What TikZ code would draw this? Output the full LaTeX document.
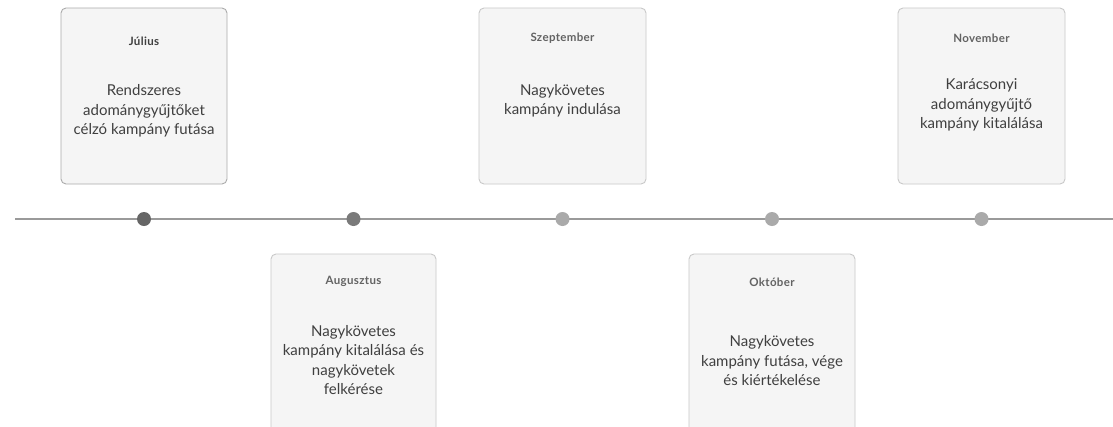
\documentclass[tikz,border=0pt]{standalone}
\usepackage{fontspec}
\setmainfont{Lato}
\newfontfamily\titlefont[LetterSpace=3,UprightFont=* Bold]{Lato}
\definecolor{boxfill}{HTML}{F5F5F5}
\definecolor{boxline}{HTML}{C9C9C9}
\definecolor{axis}{HTML}{9A9A9A}
\definecolor{bodytext}{HTML}{3F3F3F}
\definecolor{titletext}{HTML}{636363}
\definecolor{dotdark}{HTML}{666666}
\definecolor{dotmid}{HTML}{7A7A7A}
\definecolor{dotlight}{HTML}{AAAAAA}
\begin{document}
\begin{tikzpicture}[x=1pt,y=-1pt,
  card/.style={draw=boxline, fill=boxfill, rounded corners=5pt, line width=0.9pt},
  ttl/.style={font=\titlefont\fontsize{11.5}{13}\selectfont, text=titletext},
  bodytx/.style={font=\fontsize{15}{19.5}\selectfont, text=bodytext, align=center, inner sep=0pt},
  dotst/.style={circle, inner sep=0pt, minimum size=14pt}
]
\useasboundingbox (0,0) rectangle (1113,426);
\clip (0,0) rectangle (1113,426);
\fill[white] (0,0) rectangle (1113,426);
% timeline
\coordinate (L) at (15,219);
\coordinate (R) at (1113,219);
\draw[axis, line width=1.4pt] (L) -- (R);
% cards
\draw[card, draw=boxline!85!black] (61,8) rectangle (227,184);
\draw[card] (271,254) rectangle (436,440);
\draw[card] (479,8) rectangle (646,184);
\draw[card] (689,254) rectangle (855,440);
\draw[card] (898,8) rectangle (1065,184);
% dots
\node[dotst, fill=dotdark] (d1) at (144,219) {};
\node[dotst, fill=dotmid] (d2) at (353.5,219) {};
\node[dotst, fill=dotlight] (d3) at (562.5,219) {};
\node[dotst, fill=dotlight] (d4) at (772,219) {};
\node[dotst, fill=dotlight] (d5) at (981.5,219) {};
% titles
\node[ttl, text=bodytext] (t1) at (144,41) {Július};
\node[ttl] (t2) at (353.5,281) {Augusztus};
\node[ttl] (t3) at (562.5,38) {Szeptember};
\node[ttl] (t4) at (772,282) {Október};
\node[ttl] (t5) at (981.5,38) {November};
% bodies
\node[bodytx] (x1) at (144,111) {Rendszeres\\adománygyűjtőket\\célzó kampány futása};
\node[bodytx] (x2) at (353.5,360) {Nagykövetes\\kampány kitalálása és\\nagykövetek\\felkérése};
\node[bodytx] (x3) at (562.5,101) {Nagykövetes\\kampány indulása};
\node[bodytx] (x4) at (772,361) {Nagykövetes\\kampány futása, vége\\és kiértékelése};
\node[bodytx] (x5) at (981.5,105) {Karácsonyi\\adománygyűjtő\\kampány kitalálása};
\end{tikzpicture}
\end{document}
